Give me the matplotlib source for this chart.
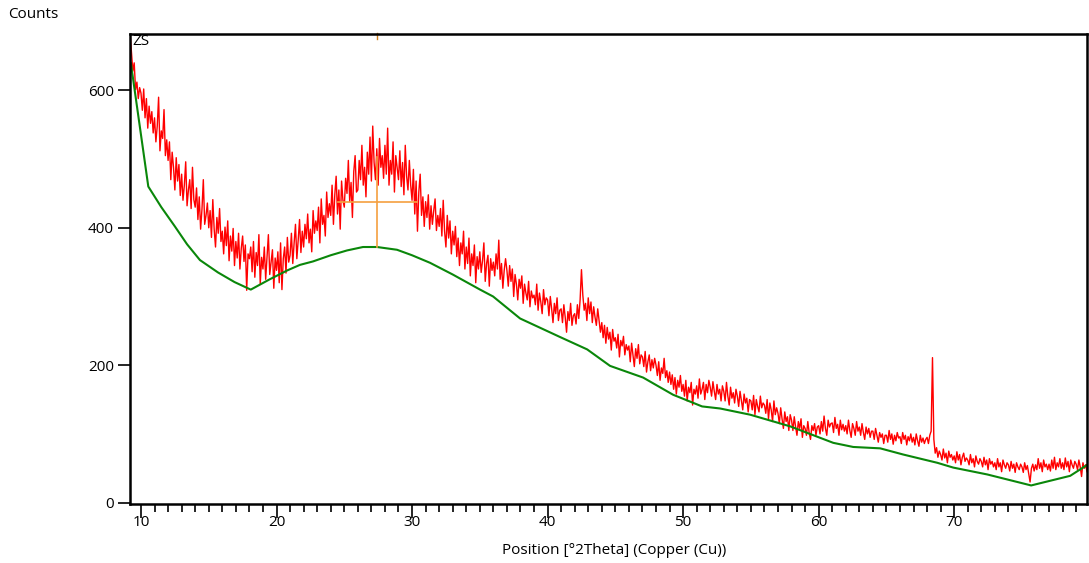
"""XRD scan with fitted background and peak marker."""

import numpy as np
import matplotlib.pyplot as plt

plt.rcParams["font.family"] = ["Open Sans", "DejaVu Sans"]

# 2Theta positions: 9.2 to 79.8 deg, 0.1 deg step
START, STEP = 9.2, 0.1

# Counts, one row per degree
counts = [
    682, 655, 628, 640, 601, 612, 588, 604,
    596, 571, 602, 560, 588, 545, 577, 552, 569, 538,
    560, 525, 548, 590, 512, 541, 530, 572, 505, 528,
    498, 525, 470, 510, 488, 455, 502, 468, 492, 447,
    478, 440, 462, 496, 432, 455, 470, 428, 488, 441,
    430, 458, 412, 445, 398, 427, 470, 405, 418, 436,
    400, 425, 386, 441, 398, 372, 415, 392, 428, 380,
    395, 362, 401, 374, 410, 352, 388, 366, 399, 345,
    380, 356, 392, 340, 370, 388, 351, 375, 309, 362,
    355, 372, 336, 380, 328, 364, 345, 390, 318, 357,
    340, 372, 325, 358, 390, 332, 350, 368, 312, 356,
    338, 365, 320, 378, 310, 355, 372, 334, 386, 350,
    360, 392, 348, 378, 405, 355, 382, 412, 364, 395,
    372, 405, 384, 420, 378, 398, 365, 425, 392, 410,
    396, 430, 378, 442, 405, 418, 388, 452, 415, 435,
    418, 462, 405, 448, 475, 420, 455, 398, 468, 440,
    430, 472, 450, 498, 438, 466, 415, 482, 505, 452,
    455, 498, 470, 520, 462, 488, 445, 510, 478, 532,
    468, 548, 495, 470, 515, 462, 530, 488, 505, 472,
    520, 478, 545, 462, 498, 478, 525, 452, 505, 488,
    470, 512, 460, 495, 448, 520, 475, 455, 498, 462,
    440, 485, 420, 468, 395, 452, 478, 418, 445, 402,
    438, 415, 448, 398, 432, 405, 425, 442, 396, 418,
    402, 428, 388, 440, 395, 372, 418, 385, 410, 362,
    395, 375, 402, 358, 385, 345, 378, 362, 395, 340,
    372, 348, 385, 330, 362, 345, 375, 320, 358, 340,
    365, 335, 352, 378, 322, 348, 360, 315, 355, 338,
    350, 330, 362, 340, 382, 325, 348, 312, 338, 355,
    338, 315, 345, 322, 340, 300, 332, 318, 295, 325,
    312, 330, 290, 318, 305, 295, 322, 285, 308, 298,
    302, 288, 318, 280, 305, 292, 275, 310, 288, 298,
    295, 272, 300, 282, 262, 290, 275, 298, 265, 280,
    282, 262, 288, 270, 248, 278, 265, 290, 258, 272,
    275, 260, 288, 268, 295, 339, 302, 280, 290, 265,
    298, 275, 292, 262, 285, 270, 258, 282, 265, 248,
    262, 240, 258, 232, 255, 238, 248, 222, 252, 235,
    240, 225, 245, 212, 236, 228, 242, 215, 230, 222,
    228, 205, 232, 215, 198, 224, 210, 230, 202, 215,
    212, 198, 220, 190, 205, 215, 192, 208, 196, 210,
    200, 185, 205, 178, 196, 188, 210, 182, 192, 175,
    190, 172, 186, 165, 182, 158, 178, 168, 185, 162,
    172, 155, 178, 148, 168, 160, 175, 142, 165, 158,
    170, 152, 180, 158, 165, 175, 150, 172, 160, 178,
    168, 155, 176, 162, 150, 172, 158, 165, 148, 170,
    162, 148, 175, 155, 142, 168, 152, 160, 145, 165,
    155, 140, 162, 148, 135, 158, 145, 152, 132, 150,
    148, 135, 156, 128, 150, 140, 132, 155, 138, 145,
    142, 130, 150, 122, 145, 135, 118, 148, 128, 138,
    130, 115, 138, 122, 108, 132, 118, 125, 105, 128,
    120, 105, 125, 110, 98, 118, 108, 122, 95, 112,
    108, 98, 118, 102, 92, 112, 105, 115, 98, 110,
    112, 100, 118, 104, 126, 108, 98, 120, 110, 115,
    116, 102, 124, 108, 114, 98, 120, 106, 114, 104,
    112, 100, 120, 105, 95, 115, 108, 98, 118, 104,
    110, 98, 115, 102, 92, 110, 100, 108, 95, 104,
    104, 92, 108, 98, 88, 102, 95, 100, 86, 98,
    98, 88, 105, 92, 100, 85, 98, 90, 102, 94,
    96, 86, 102, 92, 98, 84, 96, 90, 100, 88,
    95, 84, 100, 90, 82, 98, 88, 94, 86, 92,
    95, 86, 98, 104, 211, 92, 72, 80, 66, 75,
    70, 62, 78, 65, 72, 58, 75, 66, 70, 62,
    68, 58, 74, 62, 70, 55, 66, 72, 60, 65,
    62, 55, 70, 58, 64, 52, 68, 60, 56, 64,
    60, 52, 66, 55, 62, 48, 64, 56, 60, 52,
    58, 48, 64, 52, 58, 45, 62, 55, 50, 58,
    55, 46, 60, 50, 56, 44, 58, 52, 48, 56,
    52, 44, 58, 48, 54, 42, 30, 50, 56, 46,
    55, 48, 64, 50, 58, 45, 62, 52, 56, 48,
    56, 46, 62, 50, 66, 48, 58, 52, 64, 50,
    58, 48, 65, 52, 60, 45, 62, 55, 50, 60,
    56, 48, 62, 52, 38, 58, 50, 55, 45,
]
two_theta = START + STEP * np.arange(len(counts))

# Background line (anchor points)
bg_x = [9.25, 10.54, 11.5, 12.5, 13.4, 14.35, 15.68, 16.9, 18.1, 19.5,
        20.8, 21.73, 22.69, 24.0, 25.2, 26.38, 27.42, 28.89, 30.0, 31.33,
        33.0, 35.02, 35.98, 37.97, 40.92, 42.92, 44.61, 47.05, 49.26, 51.4,
        52.73, 54.94, 57.9, 61.08, 62.55, 64.54, 66.24, 68.75, 69.93, 72.44,
        75.68, 78.56, 79.82]
bg_y = [640, 460, 430, 402, 376, 353, 335, 321, 310, 325,
        338, 346, 351, 360, 367, 372, 372, 368, 360, 349,
        332, 310, 300, 268, 241, 223, 199, 182, 157, 140,
        137, 128, 111, 87, 81, 79, 70, 58, 51, 41,
        25, 39, 55]

# Peak marker: position, height, and FWHM span
peak_pos, peak_top, peak_base = 27.42, 503, 372
half_y, half_left, half_right = 438, 24.54, 30.37

fig = plt.figure(figsize=(10.89, 5.63), dpi=100)
ax = fig.add_axes([130 / 1089, 1 - 504 / 563, 957 / 1089, 470 / 563])

ax.plot(two_theta, counts, color="#ff0000", lw=1.0)
ax.plot(bg_x, bg_y, color="#0a870a", lw=1.5)
ax.plot([peak_pos, peak_pos], [peak_base, peak_top], color="#f5a040", lw=1.2)
ax.plot([half_left, half_right], [half_y, half_y], color="#f5a040", lw=1.2)
ax.plot([peak_pos, peak_pos], [674, 684], color="#d08020", lw=1.0, clip_on=False)

ax.set_xlim(9.19, 79.8)
ax.set_ylim(-2, 682)
ax.set_xticks(np.arange(10, 80, 10))
ax.set_xticks(np.arange(10, 80, 1), minor=True)
ax.set_yticks([0, 200, 400, 600])
ax.tick_params(axis="x", which="major", direction="out", length=10, width=1.2,
               labelsize=11, pad=-2)
ax.tick_params(axis="x", which="minor", direction="out", length=5.5, width=1.2)
ax.tick_params(axis="y", which="major", direction="out", length=8.5, width=1.2,
               labelsize=11, pad=3)
for s in ax.spines.values():
    s.set_linewidth(1.8)

ax.text(0.003, 1.0, "ZS", transform=ax.transAxes, ha="left", va="top", fontsize=11)
fig.text(8 / 1089, 1 - 14 / 563, "Counts", ha="left", va="center", fontsize=11)
fig.text(614 / 1089, 1 - 550 / 563, "Position [°2Theta] (Copper (Cu))",
         ha="center", va="center", fontsize=11)

fig.savefig("out.png", dpi=100)
